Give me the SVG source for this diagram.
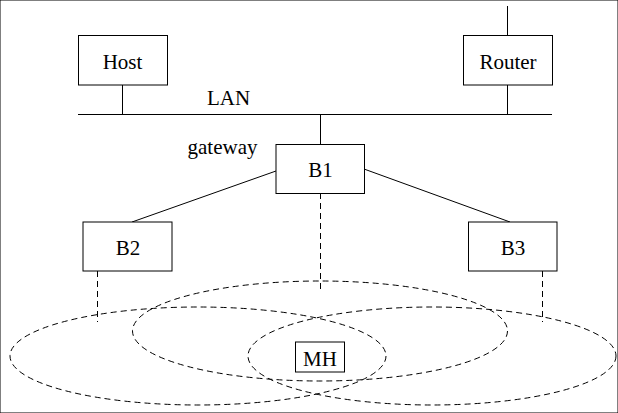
<svg xmlns="http://www.w3.org/2000/svg" width="618" height="413" viewBox="0 0 618 413">
<style>
rect{fill:#fff;stroke:#000;stroke-width:1}
line{stroke:#000;stroke-width:1}
.d{fill:none;stroke:#000;stroke-width:1;stroke-dasharray:6 4}
text{font-family:"Liberation Serif","Times New Roman",serif;font-size:21px;fill:#000;text-anchor:middle}
</style>
<rect width="618" height="413" fill="#fff" stroke="none"/>
<g id="connectors">
<line x1="78" y1="114.5" x2="552" y2="114.5"/>
<line x1="122.5" y1="85" x2="122.5" y2="114.5"/>
<line x1="507.5" y1="6" x2="507.5" y2="35"/>
<line x1="507.5" y1="85" x2="507.5" y2="114.5"/>
<line x1="320.5" y1="114.5" x2="320.5" y2="144"/>
<line x1="276" y1="171" x2="132" y2="222"/>
<line x1="364" y1="169" x2="510" y2="222"/>
<line class="d" x1="320.5" y1="193" x2="320.5" y2="292"/>
<line class="d" x1="97.5" y1="271" x2="97.5" y2="322"/>
<line class="d" x1="542.5" y1="271" x2="542.5" y2="322"/>
<text x="228.5" y="105">LAN</text>
<text x="222.5" y="154">gateway</text>
</g>
<g id="cells">
<ellipse class="d" cx="198" cy="356" rx="188" ry="49"/>
<ellipse class="d" cx="432" cy="356" rx="184" ry="49"/>
<ellipse class="d" cx="320" cy="331" rx="187.5" ry="50"/>
</g>
<g id="host"><rect x="78.5" y="35.5" width="89" height="49.5"/><text x="122.5" y="68.5">Host</text></g>
<g id="router"><rect x="463.5" y="35.5" width="89" height="49.5"/><text x="508" y="68.5">Router</text></g>
<g id="b1"><rect x="276" y="144.5" width="88.5" height="49"/><text x="320.5" y="176.5">B1</text></g>
<g id="b2"><rect x="83" y="222" width="89" height="49"/><text x="128" y="254.5">B2</text></g>
<g id="b3"><rect x="468.5" y="222" width="88.5" height="49"/><text x="513" y="254.5">B3</text></g>
<g id="mh"><rect x="295.5" y="342" width="49" height="30"/><text x="320" y="365.5">MH</text></g>
</svg>
